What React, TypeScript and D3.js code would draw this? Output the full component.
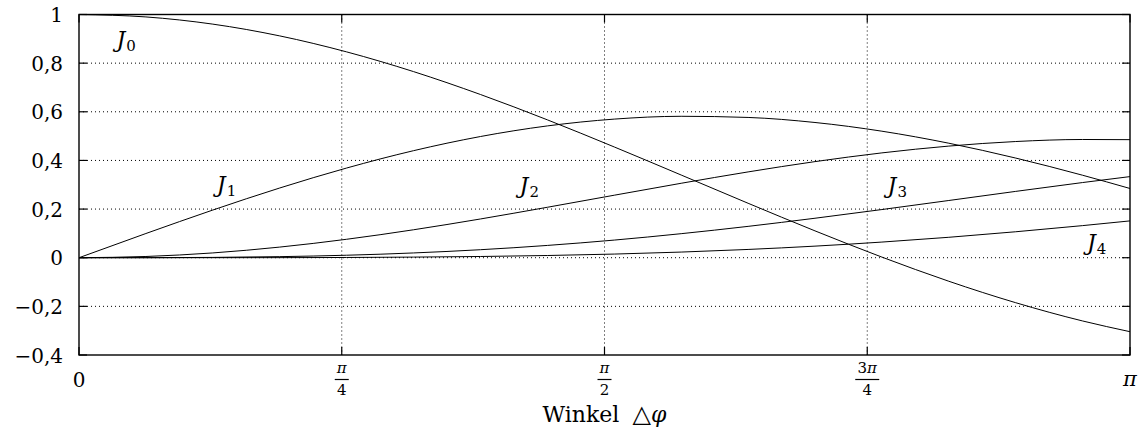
import React from "react";
import * as d3 from "d3";

// Sample abscissae (radians) and Bessel function values J0..J4 at those points
const xs = [0, 0.2, 0.4, 0.6, 0.8, 1.0, 1.2, 1.4, 1.6, 1.8, 2.0, 2.2, 2.4, 2.6, 2.8, 3.0, Math.PI];
const j0 = [1.0, 0.99, 0.9604, 0.912, 0.8463, 0.7652, 0.6711, 0.5669, 0.4554, 0.34, 0.2239, 0.1104, 0.0025, -0.0968, -0.185, -0.2601, -0.3042];
const j1 = [0, 0.0995, 0.196, 0.2867, 0.3688, 0.4401, 0.4983, 0.5419, 0.5699, 0.5815, 0.5767, 0.556, 0.5202, 0.4708, 0.4097, 0.3391, 0.2846];
const j2 = [0, 0.005, 0.0197, 0.0437, 0.0758, 0.1149, 0.1593, 0.2074, 0.257, 0.3061, 0.3528, 0.3951, 0.431, 0.459, 0.4777, 0.4861, 0.4854];
const j3 = [0, 0.0002, 0.0013, 0.0044, 0.0102, 0.0196, 0.0329, 0.0505, 0.0725, 0.0988, 0.1289, 0.1623, 0.1981, 0.2353, 0.2727, 0.3091, 0.3335];
const j4 = [0, 0.0, 0.0001, 0.0003, 0.001, 0.0025, 0.005, 0.0091, 0.015, 0.0232, 0.034, 0.0476, 0.0643, 0.084, 0.1067, 0.132, 0.1514];

const series = [j0, j1, j2, j3, j4];

// Curve labels: index, position in data units
const curveLabels = [
  { n: "0", x: 0.112, y: 0.865 },
  { n: "1", x: 0.412, y: 0.27 },
  { n: "2", x: 1.317, y: 0.265 },
  { n: "3", x: 2.417, y: 0.265 },
  { n: "4", x: 3.013, y: 0.03 },
];

const yTicks = [1, 0.8, 0.6, 0.4, 0.2, 0, -0.2, -0.4];
const yTickLabels = ["1", "0,8", "0,6", "0,4", "0,2", "0", "−0,2", "−0,4"];
const xTicks = [0, Math.PI / 4, Math.PI / 2, (3 * Math.PI) / 4, Math.PI];
const xTickNum = ["0", "π", "π", "3π", "π"];
const xTickDen = [null, "4", "2", "4", null];

const W = 1140;
const H = 437;
const L = 79;
const R = 1130;
const T = 14.5;
const B = 355;

const FONT = "DejaVu Serif";

export default function App() {
  const x = d3.scaleLinear().domain([0, Math.PI]).range([L, R]);
  const y = d3.scaleLinear().domain([-0.4, 1]).range([B, T]);
  const line = d3
    .line<number>()
    .x((_, i) => x(xs[i]))
    .y((d) => y(d))
    .curve(d3.curveMonotoneX);

  const tick = 8;
  const txt = { fontFamily: FONT } as React.CSSProperties;
  const cx = (L + R) / 2;

  return (
    <svg
      width={W}
      height={H}
      style={{ position: "absolute", left: 0, top: 0, background: "#fff", fontFamily: FONT }}
    >
      {/* dotted grid */}
      {yTicks.slice(1, -1).map((v) => (
        <line
          key={"gy" + v}
          x1={L}
          x2={R}
          y1={y(v)}
          y2={y(v)}
          stroke="#000"
          strokeWidth={1}
          strokeDasharray="1,3"
        />
      ))}
      {xTicks.slice(1, -1).map((v, i) => (
        <line
          key={"gx" + i}
          x1={x(v)}
          x2={x(v)}
          y1={T}
          y2={B}
          stroke="#000"
          strokeWidth={1}
          strokeDasharray="1,3"
        />
      ))}

      {/* ticks */}
      {yTicks.map((v) => (
        <g key={"ty" + v} stroke="#000" strokeWidth={1.2}>
          <line x1={L} x2={L + tick} y1={y(v)} y2={y(v)} />
          <line x1={R - tick} x2={R} y1={y(v)} y2={y(v)} />
        </g>
      ))}
      {xTicks.map((v, i) => (
        <g key={"tx" + i} stroke="#000" strokeWidth={1.2}>
          <line x1={x(v)} x2={x(v)} y1={B} y2={B - tick} />
          <line x1={x(v)} x2={x(v)} y1={T} y2={T + tick} />
        </g>
      ))}

      {/* curves */}
      {series.map((s, i) => (
        <path key={"c" + i} d={line(s) || ""} fill="none" stroke="#000" strokeWidth={1} />
      ))}

      {/* frame */}
      <rect x={L} y={T} width={R - L} height={B - T} fill="none" stroke="#000" strokeWidth={1.4} />

      {/* y tick labels */}
      {yTicks.map((v, i) => (
        <text key={"ly" + v} style={txt} x={63} y={y(v) + 7.5} textAnchor="end" fontSize={20} fill="#000">
          {yTickLabels[i]}
        </text>
      ))}

      {/* x tick labels */}
      {xTicks.map((v, i) =>
        xTickDen[i] === null ? (
          <text
            key={"lx" + i}
            style={txt}
            x={x(v)}
            y={i === 0 ? 387 : 386}
            textAnchor="middle"
            fontSize={i === 0 ? 20 : 21}
            fontStyle={i === 0 ? "normal" : "italic"}
            fill="#000"
          >
            {xTickNum[i]}
          </text>
        ) : (
          <g key={"lx" + i}>
            <text style={txt} x={x(v)} y={373} textAnchor="middle" fontSize={15} fill="#000">
              {xTickNum[i].length > 1 ? (
                <>
                  <tspan>3</tspan>
                  <tspan fontStyle="italic">π</tspan>
                </>
              ) : (
                <tspan fontStyle="italic">π</tspan>
              )}
            </text>
            <line
              x1={x(v) - (xTickNum[i].length > 1 ? 12 : 7)}
              x2={x(v) + (xTickNum[i].length > 1 ? 12 : 7)}
              y1={379.5}
              y2={379.5}
              stroke="#000"
              strokeWidth={1.2}
            />
            <text style={txt} x={x(v)} y={395} textAnchor="middle" fontSize={15} fill="#000">
              {xTickDen[i]}
            </text>
          </g>
        )
      )}

      {/* axis title */}
      <text style={txt} x={cx - 62} y={422} fontSize={22} fill="#000">
        Winkel
        <tspan x={cx + 28} fontSize={24}>△</tspan>
        <tspan fontStyle="italic">φ</tspan>
      </text>

      {/* curve labels */}
      {curveLabels.map((c) => (
        <text key={"cl" + c.n} style={txt} x={x(c.x)} y={y(c.y)} fontSize={22} fill="#000">
          <tspan fontStyle="italic">J</tspan>
          <tspan fontSize={15} dy={4} dx={1}>
            {c.n}
          </tspan>
        </text>
      ))}
    </svg>
  );
}
